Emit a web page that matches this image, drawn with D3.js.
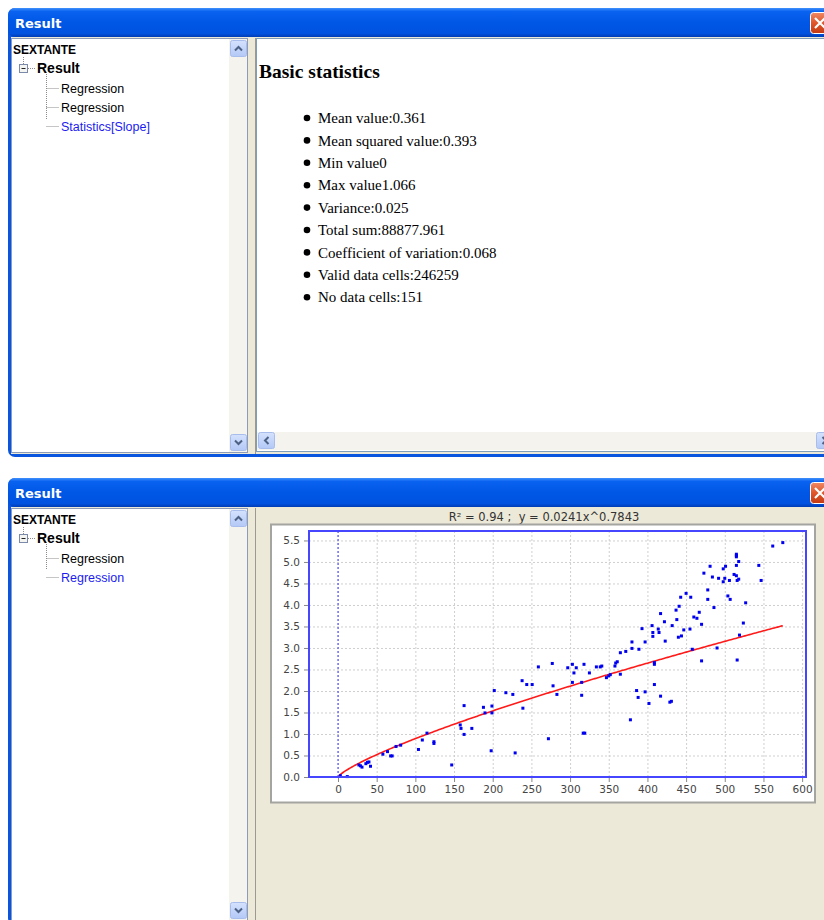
<!DOCTYPE html>
<html>
<head>
<meta charset="utf-8">
<script src="https://cdn.jsdelivr.net/npm/d3@7"></script>
<style>
html, body { margin: 0; padding: 0; background: #fff; }
svg { display: block; }
</style>
</head>
<body>
<div id="screen"></div>
<script>
// tree / list contents
var windowTitle = 'Result';
var treeRoot = 'SEXTANTE';
var treeNode = 'Result';
var treeItemsTop = ['Regression', 'Regression', 'Statistics[Slope]'];
var treeItemsBottom = ['Regression', 'Regression'];
var statsTitle = 'Basic statistics';
var statsLines = [
	'Mean value:0.361',
	'Mean squared value:0.393',
	'Min value0',
	'Max value1.066',
	'Variance:0.025',
	'Total sum:88877.961',
	'Coefficient of variation:0.068',
	'Valid data cells:246259',
	'No data cells:151'
];

// regression fit (from chart title)
var fitR2 = 0.94, fitA = 0.0241, fitB = 0.7843;

var xTicks = [0, 50, 100, 150, 200, 250, 300, 350, 400, 450, 500, 550, 600];
var yTicks = [0, 0.5, 1, 1.5, 2, 2.5, 3, 3.5, 4, 4.5, 5, 5.5];

var pointX = [3, 12, 27, 29, 31, 36, 38, 40, 42, 58, 64, 68, 70, 75, 81, 104, 109, 115, 124, 124,
	147, 158, 159, 163, 163, 173, 188, 190, 198, 199, 199, 202,
	217, 226, 229, 238, 239, 244, 251, 259, 272, 277, 278, 283, 297, 303, 305, 303, 308,
	315, 315, 318, 317, 319, 325, 334, 339, 341, 347, 350, 352, 358, 359, 361, 365, 365, 372, 378,
	380, 380, 386, 388, 389, 393, 397, 397, 402,
	406, 407, 407, 409, 409, 409, 414, 415, 417, 417, 422, 423, 429, 431, 432, 437, 438, 440, 441, 443,
	444, 447, 450, 455, 456, 458, 460, 464, 467, 470, 470, 473, 478, 478, 481, 484, 486, 490, 492,
	498, 498, 500, 501, 504, 506, 507, 512, 515, 515, 515, 515, 515, 516, 518, 518, 516, 519, 524,
	527, 544, 547, 562, 575];
var pointY = [0.03, 0.01, 0.28, 0.26, 0.23, 0.31, 0.34, 0.35, 0.25, 0.53, 0.59, 0.49, 0.49, 0.71, 0.74, 0.64, 0.86, 1.02, 0.82, 0.78,
	0.28, 1.21, 1.13, 0.99, 1.66, 1.13, 1.62, 1.49, 0.61, 1.65, 1.49, 2.01,
	1.96, 1.92, 0.56, 2.24, 1.60, 2.15, 2.15, 2.56, 0.89, 2.64, 2.12, 1.92, 2.54, 2.62, 2.42, 2.20, 2.54,
	1.90, 2.20, 2.62, 1.02, 1.02, 2.42, 2.56, 2.56, 2.58, 2.31, 2.35, 2.38, 2.58, 2.65, 2.68, 2.39, 2.89, 2.92, 1.33,
	3.14, 2.99, 2.01, 1.85, 2.97, 3.45, 3.14, 1.98, 1.71,
	3.52, 3.36, 3.27, 2.66, 2.62, 2.15, 3.44, 3.36, 3.80, 1.88, 3.61, 3.16, 1.74, 1.76, 3.52, 3.88, 3.66, 3.25, 3.97, 4.18,
	3.28, 3.42, 4.27, 3.44, 4.18, 2.97, 3.72, 3.69, 3.83, 3.55, 2.70, 4.74, 4.35, 4.13, 4.90, 4.65, 3.94, 3.00, 4.62,
	4.84, 4.54, 4.62, 4.90, 4.21, 4.57, 4.13, 4.71, 4.68, 4.92, 5.18, 5.15, 5.12, 4.57, 4.60, 5.01, 2.72, 3.30, 3.58,
	4.05, 4.92, 4.57, 5.37, 5.45];

var svg = d3.select('#screen').append('svg')
	.attr('width', 824)
	.attr('height', 920);

var defs = svg.append('defs');

function gradient(id, stops) {
	var g = defs.append('linearGradient')
		.attr('id', id)
		.attr('x1', 0).attr('y1', 0)
		.attr('x2', 0).attr('y2', 1);
	g.selectAll('stop')
		.data(stops)
		.enter()
		.append('stop')
		.attr('offset', function(d) { return d[0]; })
		.attr('stop-color', function(d) { return d[1]; });
}

gradient('titlebar', [['0%', '#3f8ffb'], ['12%', '#0a62f0'], ['50%', '#0057e6'], ['88%', '#0052df'], ['100%', '#003cb4']]);
gradient('closebtn', [['0%', '#f08a66'], ['50%', '#e0552b'], ['100%', '#c33a12']]);
gradient('scrollbtn', [['0%', '#d5e2fd'], ['100%', '#b3c8f6']]);

function scrollButton(g, x, y, dir) {
	g.append('rect')
		.attr('x', x + 0.5).attr('y', y + 0.5)
		.attr('width', 16).attr('height', 16)
		.attr('rx', 2)
		.attr('fill', 'url(#scrollbtn)')
		.attr('stroke', '#a8bdec');
	var cx = x + 8.5, cy = y + 8.5, p;
	if (dir === 'up') p = [[cx - 3.5, cy + 2], [cx, cy - 1.5], [cx + 3.5, cy + 2]];
	if (dir === 'down') p = [[cx - 3.5, cy - 2], [cx, cy + 1.5], [cx + 3.5, cy - 2]];
	if (dir === 'left') p = [[cx + 2, cy - 3.5], [cx - 1.5, cy], [cx + 2, cy + 3.5]];
	if (dir === 'right') p = [[cx - 2, cy - 3.5], [cx + 1.5, cy], [cx - 2, cy + 3.5]];
	g.append('path')
		.attr('d', d3.line()(p))
		.attr('fill', 'none')
		.attr('stroke', '#4d6185')
		.attr('stroke-width', 2);
}

function drawWindow(top, bottom, items, selected) {
	var g = svg.append('g');

	// frame + title bar
	g.append('rect')
		.attr('x', 8).attr('y', top)
		.attr('width', 840).attr('height', bottom - top)
		.attr('rx', 7)
		.attr('fill', '#0a55e0');
	g.append('rect')
		.attr('x', 8).attr('y', top)
		.attr('width', 840).attr('height', 29)
		.attr('rx', 7)
		.attr('fill', 'url(#titlebar)');
	g.append('text')
		.attr('x', 15).attr('y', top + 20)
		.attr('font-family', 'DejaVu Sans, sans-serif')
		.attr('font-weight', 'bold')
		.attr('font-size', 13)
		.attr('fill', '#fff')
		.text(windowTitle);

	// close button
	g.append('rect')
		.attr('x', 810.5).attr('y', top + 4.5)
		.attr('width', 21).attr('height', 21)
		.attr('rx', 3)
		.attr('fill', 'url(#closebtn)')
		.attr('stroke', '#fff');
	g.append('path')
		.attr('d', 'M815,' + (top + 10) + 'L825,' + (top + 20) + 'M825,' + (top + 10) + 'L815,' + (top + 20))
		.attr('stroke', '#fff')
		.attr('stroke-width', 2.2);

	// client area
	g.append('rect')
		.attr('x', 11).attr('y', top + 29)
		.attr('width', 820).attr('height', bottom - top - 32)
		.attr('fill', '#ece9d8');

	// tree pane
	g.append('rect')
		.attr('x', 11.5).attr('y', top + 30.5)
		.attr('width', 236).attr('height', bottom - top - 35)
		.attr('fill', '#fff')
		.attr('stroke', '#8c9cb8');
	g.append('rect')
		.attr('x', 229).attr('y', top + 31)
		.attr('width', 18).attr('height', bottom - top - 36)
		.attr('fill', '#f4f3ee');
	scrollButton(g, 230, top + 32, 'up');
	scrollButton(g, 230, bottom - 23, 'down');

	// splitter
	g.append('rect')
		.attr('x', 248).attr('y', top + 29)
		.attr('width', 8).attr('height', bottom - top - 32)
		.attr('fill', '#ece9d8');
	g.append('line')
		.attr('x1', 255.5).attr('x2', 255.5)
		.attr('y1', top + 30).attr('y2', bottom - 3)
		.attr('stroke', '#9c9a8f');

	drawTree(g, top, items, selected);
	return g;
}

function drawTree(g, top, items, selected) {
	var off = top - 8,
		dots = { stroke: '#8a8a8a', dash: '1,1' };

	g.append('text')
		.attr('x', 13).attr('y', off + 54)
		.attr('font-family', 'Liberation Sans, Arial, sans-serif')
		.attr('font-weight', 'bold')
		.attr('font-size', 12)
		.text(treeRoot);

	// connector lines
	var lines = [
		[23.5, off + 57, 23.5, off + 64],
		[28, off + 68.5, 36, off + 68.5],
		[46.5, off + 74, 46.5, off + 74 + 19 * items.length - 12]
	];
	items.forEach(function(d, i) {
		var yy = off + 88.5 + i * 19;
		lines.push([46.5, yy, 59, yy]);
	});
	g.selectAll(null)
		.data(lines)
		.enter()
		.append('line')
		.attr('x1', function(d) { return d[0]; })
		.attr('y1', function(d) { return d[1]; })
		.attr('x2', function(d) { return d[2]; })
		.attr('y2', function(d) { return d[3]; })
		.attr('stroke', dots.stroke)
		.attr('stroke-dasharray', dots.dash);

	// collapse box
	g.append('rect')
		.attr('x', 19.5).attr('y', off + 64.5)
		.attr('width', 8).attr('height', 8)
		.attr('fill', '#f4f4f0')
		.attr('stroke', '#7a8aa8');
	g.append('line')
		.attr('x1', 21.5).attr('x2', 25.5)
		.attr('y1', off + 68.5).attr('y2', off + 68.5)
		.attr('stroke', '#222');

	g.append('text')
		.attr('x', 37).attr('y', off + 73)
		.attr('font-family', 'Liberation Sans, Arial, sans-serif')
		.attr('font-weight', 'bold')
		.attr('font-size', 14)
		.text(treeNode);

	g.selectAll(null)
		.data(items)
		.enter()
		.append('text')
		.attr('x', 61)
		.attr('y', function(d, i) { return off + 92.5 + i * 19; })
		.attr('font-family', 'Liberation Sans, Arial, sans-serif')
		.attr('font-size', 12.5)
		.attr('fill', function(d, i) { return i === selected ? '#1c1cf0' : '#000'; })
		.text(function(d) { return d; });
}

// ---------- window 1: statistics ----------
var w1 = drawWindow(8, 457, treeItemsTop, 2);

w1.append('rect')
	.attr('x', 256.5).attr('y', 38.5)
	.attr('width', 580).attr('height', 413)
	.attr('fill', '#fff')
	.attr('stroke', '#7f9db9');
w1.append('rect')
	.attr('x', 257).attr('y', 432)
	.attr('width', 580).attr('height', 18)
	.attr('fill', '#f4f3ee');
scrollButton(w1, 258, 432, 'left');
scrollButton(w1, 816, 432, 'right');

w1.append('text')
	.attr('x', 259).attr('y', 78)
	.attr('font-family', 'Liberation Serif, Times New Roman, serif')
	.attr('font-weight', 'bold')
	.attr('font-size', 19.5)
	.text(statsTitle);

var statRows = w1.selectAll('g.stat')
	.data(statsLines)
	.enter()
	.append('g')
	.attr('class', 'stat')
	.attr('transform', function(d, i) { return 'translate(0,' + (118 + i * 22.4) + ')'; });
statRows.append('circle')
	.attr('cx', 307).attr('cy', 0)
	.attr('r', 3.3)
	.attr('fill', '#000');
statRows.append('text')
	.attr('x', 318).attr('y', 5.2)
	.attr('font-family', 'Liberation Serif, Times New Roman, serif')
	.attr('font-size', 15)
	.text(function(d) { return d; });

// ---------- window 2: regression chart ----------
var w2 = drawWindow(478, 925, treeItemsBottom, 1);

w2.append('text')
	.attr('x', 544).attr('y', 521)
	.attr('text-anchor', 'middle')
	.attr('font-family', 'DejaVu Sans, sans-serif')
	.attr('font-size', 11.5)
	.attr('fill', '#333')
	.style('white-space', 'pre')
	.text('R\u00b2 = ' + fitR2.toFixed(2) + ' ;  y = ' + fitA + 'x^' + fitB);

// chart panel
w2.append('rect')
	.attr('x', 271).attr('y', 524.5)
	.attr('width', 544).attr('height', 278)
	.attr('fill', '#fff')
	.attr('stroke', '#a4a4a0')
	.attr('stroke-width', 2);

var plot = { left: 309, right: 806, top: 531, bottom: 777 };

var x = d3.scaleLinear()
	.domain([-37.5, 605])
	.range([plot.left, plot.right]);
var y = d3.scaleLinear()
	.domain([0, 5.72])
	.range([plot.bottom, plot.top]);

var chart = w2.append('g');

// grid
chart.append('g')
	.attr('transform', 'translate(0,' + plot.bottom + ')')
	.call(d3.axisBottom(x).tickValues(xTicks).tickSize(-(plot.bottom - plot.top)).tickFormat(''))
	.call(function(s) {
		s.select('.domain').remove();
		s.selectAll('line').attr('stroke', '#cfcfcf').attr('stroke-dasharray', '2,2');
	});
chart.append('g')
	.attr('transform', 'translate(' + plot.left + ',0)')
	.call(d3.axisLeft(y).tickValues(yTicks).tickSize(-(plot.right - plot.left)).tickFormat(''))
	.call(function(s) {
		s.select('.domain').remove();
		s.selectAll('line').attr('stroke', '#cfcfcf').attr('stroke-dasharray', '2,2');
	});

// zero marker
chart.append('line')
	.attr('x1', x(0)).attr('x2', x(0))
	.attr('y1', plot.top).attr('y2', plot.bottom)
	.attr('stroke', '#3a3aff')
	.attr('stroke-dasharray', '2,2');

// axes
function styleAxis(s) {
	s.select('.domain').remove();
	s.selectAll('line').attr('stroke', '#888');
	s.selectAll('text')
		.attr('font-family', 'DejaVu Sans, sans-serif')
		.attr('font-size', 10.5)
		.attr('fill', '#444');
}
chart.append('g')
	.attr('transform', 'translate(0,' + (plot.bottom + 1) + ')')
	.call(d3.axisBottom(x).tickValues(xTicks).tickSize(4).tickPadding(4).tickFormat(d3.format('d')))
	.call(styleAxis);
chart.append('g')
	.attr('transform', 'translate(' + (plot.left - 1) + ',0)')
	.call(d3.axisLeft(y).tickValues(yTicks).tickSize(4).tickPadding(4).tickFormat(d3.format('.1f')))
	.call(styleAxis);

// fitted curve y = a * x^b
var fitXs = d3.range(0, d3.max(pointX), 2).concat([d3.max(pointX)]);
chart.append('path')
	.datum(fitXs)
	.attr('d', d3.line()
		.x(function(d) { return x(d); })
		.y(function(d) { return y(fitA * Math.pow(d, fitB)); }))
	.attr('fill', 'none')
	.attr('stroke', '#ff1a1a')
	.attr('stroke-width', 1.6);

// points
chart.selectAll('rect.pt')
	.data(pointX)
	.enter()
	.append('rect')
	.attr('class', 'pt')
	.attr('x', function(d) { return x(d) - 1.5; })
	.attr('y', function(d, i) { return y(pointY[i]) - 1.5; })
	.attr('width', 3)
	.attr('height', 3)
	.attr('fill', '#0000f0');

// plot border
chart.append('rect')
	.attr('x', plot.left).attr('y', plot.top)
	.attr('width', plot.right - plot.left)
	.attr('height', plot.bottom - plot.top)
	.attr('fill', 'none')
	.attr('stroke', '#4646ff')
	.attr('stroke-width', 2);
</script>
</body>
</html>
